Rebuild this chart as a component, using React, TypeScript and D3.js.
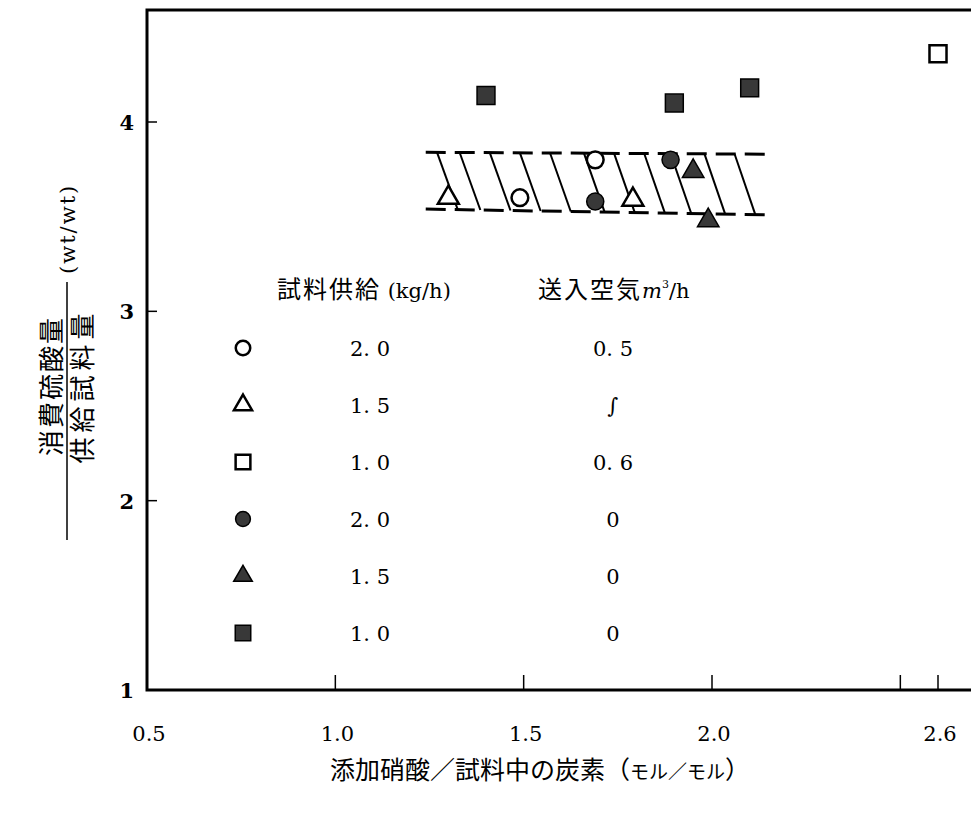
import React, { useEffect, useRef } from 'react';
import * as d3 from 'd3';

// axis ticks
const xTicks = [0.5, 1.0, 1.5, 2.0, 2.5, 2.6];
const xTickLabels = ['0.5', '1.0', '1.5', '2.0', '', '2.6'];
const yTicks = [1, 2, 3, 4];

// data points
const openCircles = [{ x: 1.49, y: 3.6 }, { x: 1.69, y: 3.8 }];
const openTriangles = [{ x: 1.3, y: 3.6 }, { x: 1.79, y: 3.59 }];
const openSquares = [{ x: 2.6, y: 4.36 }];
const filledCircles = [{ x: 1.69, y: 3.58 }, { x: 1.89, y: 3.8 }];
const filledTriangles = [{ x: 1.95, y: 3.74 }, { x: 1.99, y: 3.48 }];
const filledSquares = [{ x: 1.4, y: 4.14 }, { x: 1.9, y: 4.1 }, { x: 2.1, y: 4.18 }];

// hatched band
const bandUpper = [{ x: 1.24, y: 3.84 }, { x: 2.14, y: 3.83 }];
const bandLower = [{ x: 1.24, y: 3.54 }, { x: 2.14, y: 3.51 }];
const hatchStarts = [1.27, 1.33, 1.41, 1.49, 1.57, 1.66, 1.74, 1.82, 1.89, 1.98, 2.06];

// legend
const legendMarks = ['openCircle', 'openTriangle', 'openSquare', 'filledCircle', 'filledTriangle', 'filledSquare'];
const legendFeed = ['2. 0', '1. 5', '1. 0', '2. 0', '1. 5', '1. 0'];
const legendAir = ['0. 5', '∫', '0. 6', '0', '0', '0'];

const W = 971;
const H = 817;
const serif = '"DejaVu Serif", "Liberation Serif", serif';
const jp = '"Noto Sans CJK JP", sans-serif';
const FILL = '#383838';

const App: React.FC = () => {
  const svgRef = useRef<SVGSVGElement>(null);

  useEffect(() => {
    if (!svgRef.current) return;
    const svg = d3.select(svgRef.current);
    svg.selectAll('*').remove();

    const left = 147, bottom = 690, top = 10;
    const x = d3.scaleLinear().domain([0.5, 2.6]).range([147, 938]);
    const y = d3.scaleLinear().domain([1, 4]).range([690, 122]);

    // frame
    svg.append('path')
      .attr('d', `M${W},${top}H${left}V${bottom}H${W}`)
      .attr('fill', 'none')
      .attr('stroke', '#000')
      .attr('stroke-width', 3);

    // x ticks (inward)
    svg.selectAll('.xt').data(xTicks).enter().append('line')
      .attr('x1', d => x(d)).attr('x2', d => x(d))
      .attr('y1', bottom).attr('y2', bottom - 15)
      .attr('stroke', '#000').attr('stroke-width', 1.5);
    svg.selectAll('.xl').data(xTicks).enter().append('text')
      .attr('x', d => x(d) + 2).attr('y', 741)
      .attr('text-anchor', 'middle')
      .attr('font-family', serif).attr('font-size', 21)
      .text((d, i) => xTickLabels[i]);

    // y ticks
    svg.selectAll('.yt').data(yTicks).enter().append('line')
      .attr('x1', left).attr('x2', left + 10)
      .attr('y1', d => y(d)).attr('y2', d => y(d))
      .attr('stroke', '#000').attr('stroke-width', 1.5);
    svg.selectAll('.yl').data(yTicks).enter().append('text')
      .attr('x', 134).attr('y', d => y(d) + 8)
      .attr('text-anchor', 'end')
      .attr('font-family', serif).attr('font-size', 21).attr('font-weight', 'bold')
      .text(d => d);

    // band
    const upY = d3.scaleLinear().domain(bandUpper.map(d => d.x)).range(bandUpper.map(d => d.y));
    const loY = d3.scaleLinear().domain(bandLower.map(d => d.x)).range(bandLower.map(d => d.y));
    const line = d3.line<{ x: number; y: number }>().x(d => x(d.x)).y(d => y(d.y));
    [bandUpper, bandLower].forEach(b => {
      svg.append('path').attr('d', line(b))
        .attr('fill', 'none').attr('stroke', '#000').attr('stroke-width', 3)
        .attr('stroke-dasharray', '20 9');
    });
    const slant = 0.055;
    svg.selectAll('.hatch').data(hatchStarts).enter().append('line')
      .attr('x1', d => x(d)).attr('y1', d => y(upY(d)))
      .attr('x2', d => x(d + slant)).attr('y2', d => y(loY(d + slant)))
      .attr('stroke', '#000').attr('stroke-width', 2);

    // markers
    const symType: Record<string, d3.SymbolType> = {
      openCircle: d3.symbolCircle, filledCircle: d3.symbolCircle,
      openTriangle: d3.symbolTriangle, filledTriangle: d3.symbolTriangle,
      openSquare: d3.symbolSquare, filledSquare: d3.symbolSquare,
    };
    const symSize: Record<string, number> = {
      openCircle: 220, filledCircle: 230,
      openTriangle: 190, filledTriangle: 200,
      openSquare: 290, filledSquare: 320,
    };
    const drawMark = (g: d3.Selection<any, any, any, any>, kind: string, cx: number, cy: number, scale = 1) => {
      const open = kind.startsWith('open');
      g.append('path')
        .attr('d', d3.symbol().type(symType[kind]).size(symSize[kind] * scale)())
        .attr('transform', `translate(${cx},${cy})`)
        .attr('fill', open ? '#fff' : FILL)
        .attr('stroke', '#000')
        .attr('stroke-width', open ? 2.5 : 1.5);
    };
    const series: [string, { x: number; y: number }[]][] = [
      ['openCircle', openCircles], ['openTriangle', openTriangles], ['openSquare', openSquares],
      ['filledCircle', filledCircles], ['filledTriangle', filledTriangles], ['filledSquare', filledSquares],
    ];
    series.forEach(([kind, pts]) => pts.forEach(p => drawMark(svg, kind, x(p.x), y(p.y))));

    // legend
    const lg = svg.append('g');
    const feedHead = lg.append('text').attr('x', 277).attr('y', 298)
      .attr('font-family', jp).attr('font-size', 24);
    feedHead.append('tspan').attr('letter-spacing', 2).text('試料供給');
    feedHead.append('tspan').attr('font-family', serif).attr('font-size', 21).text(' (kg/h)');
    const airHead = lg.append('text').attr('x', 538).attr('y', 298)
      .attr('font-family', jp).attr('font-size', 24);
    airHead.append('tspan').attr('letter-spacing', 2).text('送入空気');
    airHead.append('tspan').attr('font-family', serif).attr('font-style', 'italic').attr('font-size', 21).text('m');
    airHead.append('tspan').attr('font-family', serif).attr('font-size', 11).attr('dy', -10).text('3');
    airHead.append('tspan').attr('font-family', serif).attr('font-size', 21).attr('dy', 10).text('/h');

    legendMarks.forEach((kind, i) => {
      const ry = 348 + i * 57;
      drawMark(lg, kind, 243, ry, 0.75);
      lg.append('text').attr('x', 370).attr('y', ry + 8).attr('text-anchor', 'middle')
        .attr('font-family', serif).attr('font-size', 21).text(legendFeed[i]);
      lg.append('text').attr('x', 613).attr('y', ry + 8).attr('text-anchor', 'middle')
        .attr('font-family', serif).attr('font-size', 21).text(legendAir[i]);
    });

    // x title
    const xt = svg.append('text').attr('x', 540).attr('y', 779).attr('text-anchor', 'middle')
      .attr('font-family', jp).attr('font-size', 25);
    xt.append('tspan').text('添加硝酸／試料中の炭素（');
    xt.append('tspan').attr('font-size', 19).text('モル／モル');
    xt.append('tspan').text('）');

    // y title (rotated fraction)
    const yt = svg.append('g').attr('transform', 'translate(67,410) rotate(-90)');
    yt.append('line').attr('x1', -130).attr('x2', 128).attr('y1', 0).attr('y2', 0)
      .attr('stroke', '#000').attr('stroke-width', 1.5);
    yt.append('text').attr('x', 24).attr('y', -6).attr('text-anchor', 'middle')
      .attr('font-family', jp).attr('font-size', 26).attr('letter-spacing', 2)
      .text('消費硫酸量');
    yt.append('text').attr('x', 24).attr('y', 25).attr('text-anchor', 'middle')
      .attr('font-family', jp).attr('font-size', 26).attr('letter-spacing', 5)
      .text('供給試料量');
    yt.append('text').attr('x', 136).attr('y', 8).attr('font-family', serif).attr('font-size', 21)
      .attr('letter-spacing', 2)
      .text('(wt/wt)');
  }, []);

  return (
    <svg ref={svgRef} width={W} height={H} viewBox={`0 0 ${W} ${H}`}
      style={{ position: 'absolute', left: 0, top: 0, background: '#fff' }} />
  );
};

export default App;
